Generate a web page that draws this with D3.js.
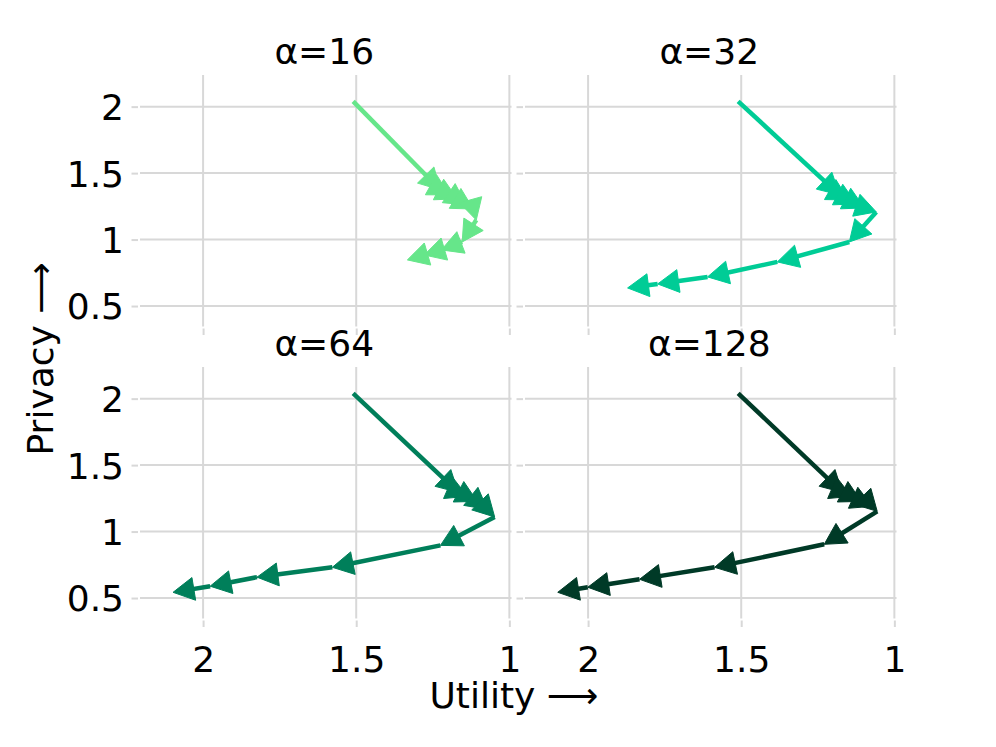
<!DOCTYPE html>
<html><head><meta charset="utf-8">
<script src="https://cdn.jsdelivr.net/npm/d3@7"></script>
<style>body{margin:0;background:#fff} svg{display:block}</style>
</head><body><svg id="chart" width="996" height="747"></svg>
<script>
// ---- data ----
const facetTitles = ["α=16", "α=32", "α=64", "α=128"];
const seriesColors = ["#66e68a", "#00cc96", "#007f5a", "#003a27"];

const utility16  = [1.510, 1.225, 1.196, 1.170, 1.141, 1.118, 1.108, 1.154, 1.222, 1.278, 1.333];
const privacy16  = [2.040, 1.373, 1.336, 1.306, 1.261, 1.230, 1.147, 0.982, 0.922, 0.884, 0.847];

const utility32  = [1.510, 1.179, 1.150, 1.124, 1.098, 1.059, 1.147, 1.382, 1.610, 1.773, 1.871];
const privacy32  = [2.040, 1.336, 1.298, 1.268, 1.238, 1.208, 0.982, 0.832, 0.719, 0.666, 0.636];

const utility64  = [1.510, 1.167, 1.137, 1.105, 1.072, 1.048, 1.225, 1.578, 1.824, 1.977, 2.098];
const privacy64  = [2.040, 1.295, 1.265, 1.227, 1.167, 1.110, 0.896, 0.731, 0.657, 0.589, 0.543];

const utility128 = [1.510, 1.170, 1.140, 1.108, 1.072, 1.056, 1.229, 1.587, 1.832, 2.001, 2.099];
const privacy128 = [2.040, 1.295, 1.265, 1.227, 1.190, 1.152, 0.904, 0.731, 0.641, 0.581, 0.543];

const xTickValues = [2, 1.5, 1];
const xTickLabels = ["2", "1.5", "1"];
const yTickValues = [2, 1.5, 1, 0.5];
const yTickLabels = ["2", "1.5", "1", "0.5"];
const xLabel = "Utility ⟶";
const yLabel = "Privacy ⟶";

const utilitySeries = [utility16, utility32, utility64, utility128];
const privacySeries = [privacy16, privacy32, privacy64, privacy128];

// ---- layout ----
const panelW = 371.5, panelH = 251.5;
const panelLeft = [140, 525], panelTop = [75, 367];
const font = "'DejaVu Sans', sans-serif";
const gridColor = "#d8d8d8";
const headLen = 21, headHalf = 11.5;

const x = d3.scaleLinear().domain([2.206, 0.993]).range([0, panelW]);
const y = d3.scaleLinear().domain([0.346, 2.238]).range([panelH, 0]);

const svg = d3.select("#chart");
svg.append("rect").attr("width", 996).attr("height", 747).attr("fill", "#fff");

facetTitles.forEach((title, i) => {
  const col = i % 2, row = Math.floor(i / 2);
  const g = svg.append("g").attr("transform", `translate(${panelLeft[col]},${panelTop[row]})`);

  // grid
  g.append("g").selectAll("line").data(xTickValues).join("line")
    .attr("x1", d => x(d)).attr("x2", d => x(d)).attr("y1", 0).attr("y2", panelH)
    .attr("stroke", gridColor).attr("stroke-width", 2);
  g.append("g").selectAll("line").data(yTickValues).join("line")
    .attr("y1", d => y(d)).attr("y2", d => y(d)).attr("x1", 0).attr("x2", panelW)
    .attr("stroke", gridColor).attr("stroke-width", 2);

  // y axis
  const yAxis = d3.axisLeft(y).tickValues(yTickValues)
    .tickFormat((d, j) => col === 0 ? yTickLabels[j] : "")
    .tickSize(6.5).tickPadding(7.5);
  g.append("g").attr("transform", "translate(-2,0)").call(yAxis)
    .call(s => s.select(".domain").remove())
    .call(s => s.selectAll("line").attr("stroke", gridColor).attr("stroke-width", 2))
    .call(s => s.selectAll("text").attr("font-size", 36).attr("font-family", font)
      .attr("fill", "#000").attr("dy", "0.36em"));

  // x axis
  const xAxis = d3.axisBottom(x).tickValues(xTickValues)
    .tickFormat((d, j) => row === 1 ? xTickLabels[j] : "")
    .tickSize(6.5).tickPadding(19);
  g.append("g").attr("transform", `translate(0,${panelH + 2})`).call(xAxis)
    .call(s => s.select(".domain").remove())
    .call(s => s.selectAll("line").attr("stroke", gridColor).attr("stroke-width", 2))
    .call(s => s.selectAll("text").attr("font-size", 36).attr("font-family", font)
      .attr("fill", "#000"));

  // facet title
  g.append("text").attr("x", panelW / 2 - 1.5).attr("y", -11.5)
    .attr("text-anchor", "middle").attr("font-size", 36).attr("font-family", font)
    .attr("fill", "#000").text(title);

  // arrows
  const u = utilitySeries[i], p = privacySeries[i];
  const segs = [];
  for (let k = 1; k < u.length; k++) {
    const x0 = x(u[k - 1]), y0 = y(p[k - 1]), x1 = x(u[k]), y1 = y(p[k]);
    const dx = x1 - x0, dy = y1 - y0, L = Math.hypot(dx, dy) || 1;
    const ux = dx / L, uy = dy / L;
    const endL = Math.max(0, L - headLen * 0.5);
    const bx = x1 - ux * headLen, by = y1 - uy * headLen;
    segs.push({
      x0, y0, xe: x0 + ux * endL, ye: y0 + uy * endL,
      head: [[x1, y1], [bx - uy * headHalf, by + ux * headHalf], [bx + uy * headHalf, by - ux * headHalf]]
    });
  }
  const color = seriesColors[i];
  const ag = g.append("g");
  segs.forEach(s => {
    ag.append("line").attr("x1", s.x0).attr("y1", s.y0).attr("x2", s.xe).attr("y2", s.ye)
      .attr("stroke", color).attr("stroke-width", 4.5).attr("stroke-linecap", "butt");
    ag.append("path").attr("d", d3.line()(s.head) + "Z")
      .attr("fill", color).attr("stroke", color).attr("stroke-width", 1).attr("stroke-linejoin", "miter");
  });
});

// axis titles
svg.append("text").attr("x", 429.5).attr("y", 708)
  .attr("font-size", 36).attr("font-family", font).attr("fill", "#000").text(xLabel);
svg.append("text").attr("transform", "translate(53.3,455.5) rotate(-90)")
  .attr("font-size", 36).attr("font-family", font).attr("fill", "#000").text(yLabel);
</script>
</body></html>
